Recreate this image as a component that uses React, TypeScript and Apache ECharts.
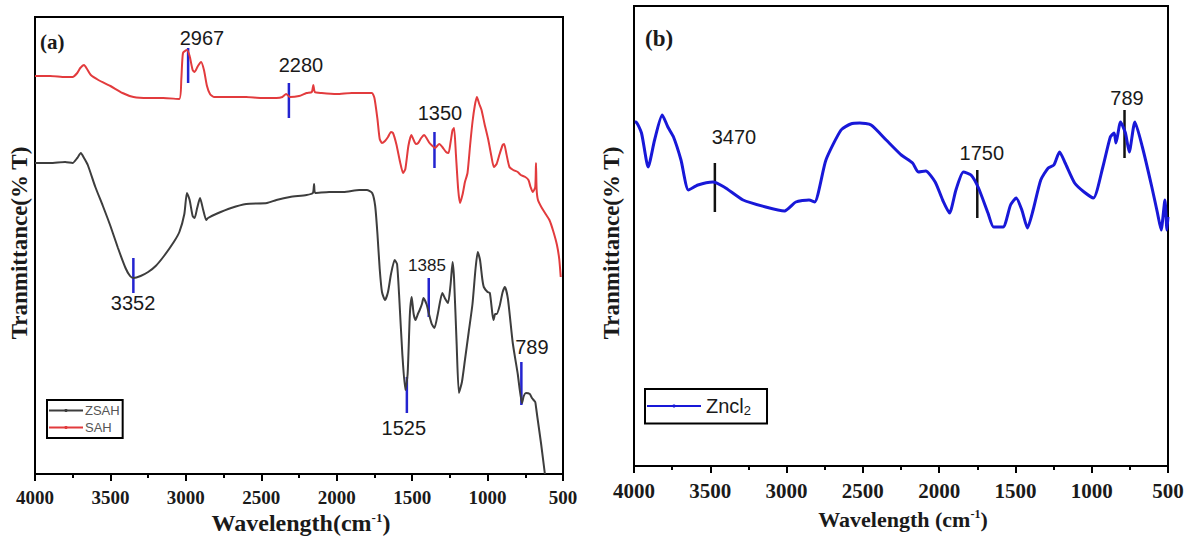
import React, { useEffect, useRef } from "react";
import * as echarts from "echarts";

// Wavenumber axis (cm-1)
const xMin = 500;
const xMax = 4000;
const xStep = 500;

// Relative transmittance (arbitrary units, no scale shown)
const yMaxA = 457;
const yMaxB = 460;

const zsah: [number, number][] = [
  [4000, 311], [3900, 311], [3800, 312], [3751, 311], [3720, 316], [3696, 321], [3675, 316], [3650, 309],
  [3600, 287], [3550, 268], [3500, 248], [3450, 226], [3400, 206], [3370, 198], [3347, 196], [3300, 198],
  [3250, 202], [3200, 208], [3145, 218], [3080, 232], [3043, 242], [3010, 260], [2993, 281], [2975, 274],
  [2955, 258], [2942, 256], [2925, 266], [2906, 276], [2885, 264], [2865, 254], [2853, 256], [2800, 260],
  [2700, 266], [2600, 270], [2462, 271], [2400, 274], [2310, 277], [2200, 279], [2158, 281], [2150, 290],
  [2142, 281], [2050, 282], [1955, 282], [1850, 284], [1800, 284], [1765, 281], [1745, 268], [1730, 240],
  [1715, 205], [1700, 182], [1680, 174], [1660, 182], [1640, 200], [1616, 214], [1600, 210], [1585, 175],
  [1565, 120], [1545, 84], [1530, 100], [1515, 160], [1503, 177], [1490, 160], [1477, 154], [1462, 160],
  [1450, 164], [1435, 170], [1425, 176], [1405, 170], [1390, 161], [1370, 150], [1352, 146], [1330, 160],
  [1300, 181], [1280, 175], [1262, 171], [1245, 190], [1232, 212], [1222, 195], [1205, 130], [1190, 81],
  [1170, 92], [1150, 114], [1125, 142], [1100, 170], [1080, 205], [1065, 222], [1050, 214], [1035, 195],
  [1025, 187], [1000, 182], [985, 181], [968, 160], [960, 154], [950, 160], [940, 160], [920, 168],
  [900, 182], [885, 187], [865, 175], [833, 131], [800, 100], [772, 71], [760, 78], [746, 81],
  [720, 80], [706, 76], [695, 74], [684, 72], [678, 66], [670, 57], [645, 30], [620, 0],
];

const sah: [number, number][] = [
  [4000, 398], [3900, 398], [3800, 397], [3751, 397], [3720, 401], [3700, 406], [3675, 409], [3655, 405],
  [3630, 399], [3580, 394], [3500, 388], [3420, 381], [3347, 377], [3250, 376], [3150, 376], [3044, 375],
  [3030, 395], [3019, 421], [2993, 424], [2975, 418], [2955, 404], [2942, 402], [2920, 408], [2899, 412],
  [2880, 404], [2860, 388], [2840, 380], [2814, 377], [2700, 377], [2600, 377], [2500, 376], [2400, 376],
  [2360, 377], [2335, 380], [2310, 377], [2250, 378], [2200, 381], [2165, 382], [2155, 389], [2145, 382],
  [2100, 381], [2000, 380], [1900, 381], [1800, 381], [1766, 381], [1750, 376], [1730, 355], [1715, 335],
  [1700, 331], [1680, 333], [1660, 337], [1640, 342], [1627, 341], [1605, 330], [1580, 312], [1560, 301],
  [1545, 305], [1525, 328], [1505, 339], [1490, 334], [1475, 330], [1460, 331], [1440, 336], [1420, 339],
  [1405, 336], [1385, 331], [1365, 328], [1349, 326], [1320, 330], [1300, 327], [1275, 322], [1259, 321],
  [1245, 332], [1232, 344], [1222, 346], [1210, 320], [1195, 285], [1183, 271], [1165, 280], [1150, 292],
  [1133, 301], [1115, 330], [1100, 352], [1085, 368], [1071, 377], [1055, 370], [1040, 364], [1020, 350],
  [995, 334], [975, 318], [958, 307], [940, 310], [920, 320], [900, 329], [890, 330], [875, 320],
  [855, 307], [830, 304], [800, 302], [780, 299], [750, 297], [729, 294], [715, 287], [700, 282],
  [684, 287], [679, 311], [675, 285], [666, 274], [640, 266], [615, 260], [590, 254], [565, 243],
  [540, 229], [525, 215], [515, 197],
];

const zncl2: [number, number][] = [
  [3995, 344], [3988, 344], [3951, 333], [3907, 299], [3865, 326], [3815, 351], [3778, 339], [3741, 329],
  [3692, 306], [3643, 276], [3581, 281], [3483, 284], [3409, 279], [3285, 266], [3137, 259], [3013, 255],
  [2939, 264], [2853, 266], [2816, 264], [2742, 306], [2643, 336], [2580, 342], [2520, 343], [2446, 341],
  [2347, 326], [2248, 311], [2174, 303], [2137, 294], [2088, 295], [2026, 284], [1977, 266], [1932, 253],
  [1890, 276], [1841, 294], [1791, 291], [1742, 278], [1680, 253], [1643, 239], [1581, 239], [1532, 261],
  [1495, 268], [1458, 256], [1421, 238], [1384, 256], [1334, 286], [1285, 298], [1248, 301], [1211, 314],
  [1174, 303], [1112, 283], [1050, 274], [989, 268], [927, 299], [878, 329], [853, 333], [841, 323],
  [811, 344], [779, 333], [754, 314], [717, 344], [668, 319], [606, 279], [569, 253], [545, 236],
  [520, 266], [507, 236], [500, 249],
];

// Peak annotations: [peak x, y from, y to, label x, label y] (data coords)
const peakLabelsA = ["2967", "2280", "1350", "3352", "1385", "1525", "789"];
const peakMarksA: number[][] = [
  [2985, 391, 426, 2893, 436],
  [2317, 356, 391, 2237, 409],
  [1352, 306, 342, 1316, 361],
  [3348, 181, 216, 3350, 171],
  [1390, 157, 196, 1402, 209],
  [1535, 61, 97, 1555, 46],
  [776, 69, 112, 706, 127],
];
const peakLabelsB = ["3470", "1750", "789"];
const peakMarksB: number[][] = [
  [3470, 254, 303, 3345, 329],
  [1750, 248, 296, 1720, 313],
  [785, 308, 356, 769, 368],
];

const serif = "Liberation Serif";
const sans = "Liberation Sans";

function xAxisCfg(gridIndex: number, fontSize: number) {
  return {
    type: "value",
    gridIndex,
    min: xMin,
    max: xMax,
    interval: xStep,
    inverse: true,
    axisLine: { show: true, onZero: false, lineStyle: { color: "#000", width: 2 } },
    axisTick: { show: true, length: 7, lineStyle: { color: "#000", width: 2 } },
    minorTick: { show: true, splitNumber: 2, length: 4, lineStyle: { color: "#000", width: 2 } },
    axisLabel: {
      margin: 14,
      fontFamily: serif,
      fontWeight: "bold",
      fontSize,
      color: "#1a1a1a",
      showMinLabel: true,
      showMaxLabel: true,
      formatter: (v: number) => String(v),
    },
    splitLine: { show: false },
    minorSplitLine: { show: false },
  };
}

function markerSeries(idx: number, marks: number[][], labels: string[], color: string) {
  return {
    type: "custom",
    xAxisIndex: idx,
    yAxisIndex: idx,
    silent: true,
    clip: false,
    data: marks,
    encode: { x: [0, 3], y: [1, 2, 4] },
    renderItem: (params: any, api: any) => {
      const a = api.coord([api.value(0), api.value(1)]);
      const b = api.coord([api.value(0), api.value(2)]);
      const t = api.coord([api.value(3), api.value(4)]);
      const lbl = labels[params.dataIndex];
      const small = lbl === "1385";
      return {
        type: "group",
        children: [
          {
            type: "line",
            shape: { x1: a[0], y1: a[1], x2: b[0], y2: b[1] },
            style: { stroke: color, lineWidth: 2.5 },
          },
          {
            type: "text",
            x: t[0],
            y: t[1],
            style: {
              text: lbl,
              fill: "#1a1a1a",
              fontSize: small ? 17 : 20,
              fontFamily: sans,
              align: "center",
              verticalAlign: "middle",
            },
          },
        ],
      };
    },
  };
}

function titleText(x: number, y: number, text: string, size: number, rotate = false) {
  return {
    type: "text",
    x,
    y,
    rotation: rotate ? Math.PI / 2 : 0,
    silent: true,
    style: {
      text,
      fill: "#1a1a1a",
      fontSize: size,
      fontWeight: "bold",
      fontFamily: serif,
      align: "center",
      verticalAlign: "middle",
      rich: {
        sup: {
          fontSize: Math.round(size * 0.55),
          fontWeight: "bold",
          fontFamily: serif,
          fill: "#1a1a1a",
          verticalAlign: "top",
        },
      },
    },
  };
}

function lineSeries(name: string, idx: number, data: [number, number][], color: string, width: number) {
  return {
    name,
    type: "line",
    xAxisIndex: idx,
    yAxisIndex: idx,
    data,
    showSymbol: false,
    symbol: "circle",
    symbolSize: 3,
    smooth: 0.2,
    color,
    lineStyle: { width, color },
    z: 3,
  };
}

export default function App() {
  const ref = useRef<HTMLDivElement>(null);

  useEffect(() => {
    if (!ref.current) return;
    const chart = echarts.init(ref.current, null, { renderer: "svg" });
    const option: any = {
      animation: false,
      backgroundColor: "#fff",
      grid: [
        { left: 35, top: 17, width: 528, height: 457, show: true, borderColor: "#000", borderWidth: 2, containLabel: false },
        { left: 634, top: 6, width: 534, height: 460, show: true, borderColor: "#000", borderWidth: 2, containLabel: false },
      ],
      xAxis: [xAxisCfg(0, 19), xAxisCfg(1, 21)],
      yAxis: [
        { type: "value", gridIndex: 0, min: 0, max: yMaxA, show: false },
        { type: "value", gridIndex: 1, min: 0, max: yMaxB, show: false },
      ],
      legend: [
        {
          data: ["ZSAH", "SAH"],
          orient: "vertical",
          left: 47,
          top: 400,
          backgroundColor: "#fff",
          borderColor: "#000",
          borderWidth: 2,
          padding: [4, 3, 4, 1],
          itemGap: 4,
          itemWidth: 34,
          itemHeight: 4,
          textStyle: { fontFamily: sans, fontSize: 13, color: "#555", padding: [0, 0, 0, -3] },
        },
        {
          data: ["Zncl2"],
          orient: "vertical",
          left: 645,
          top: 389,
          backgroundColor: "#fff",
          borderColor: "#000",
          borderWidth: 2,
          padding: [7, 16, 7, 1],
          itemWidth: 54,
          itemHeight: 4,
          formatter: () => "Zncl{sub|2}",
          textStyle: {
            fontFamily: sans,
            fontSize: 20,
            color: "#1a1a1a",
            rich: { sub: { fontFamily: sans, fontSize: 13, color: "#1a1a1a", verticalAlign: "bottom", padding: [8, 0, 0, 0] } },
          },
        },
      ],
      graphic: [
        {
          type: "text",
          x: 40,
          y: 42,
          silent: true,
          style: { text: "(a)", fill: "#1a1a1a", fontSize: 21, fontWeight: "bold", fontFamily: serif, align: "left", verticalAlign: "middle" },
        },
        {
          type: "text",
          x: 645,
          y: 38,
          silent: true,
          style: { text: "(b)", fill: "#1a1a1a", fontSize: 23, fontWeight: "bold", fontFamily: serif, align: "left", verticalAlign: "middle" },
        },
        titleText(19, 243, "Tranmittance(% T)", 23, true),
        titleText(611, 243, "Tranmittance(% T)", 23, true),
        titleText(301, 523, "Wavelength(cm{sup|-1})", 24),
        titleText(903, 519, "Wavelength (cm{sup|-1})", 22),
      ],
      series: [
        lineSeries("ZSAH", 0, zsah, "#3d3d3d", 2),
        lineSeries("SAH", 0, sah, "#e23b3d", 2),
        lineSeries("Zncl2", 1, zncl2, "#1818d8", 3),
        markerSeries(0, peakMarksA, peakLabelsA, "#2424d0"),
        markerSeries(1, peakMarksB, peakLabelsB, "#111"),
      ],
    };
    chart.setOption(option);
    return () => chart.dispose();
  }, []);

  return (
    <div
      ref={ref}
      style={{ position: "absolute", left: 0, top: 0, width: 1190, height: 540, background: "#fff" }}
    />
  );
}
